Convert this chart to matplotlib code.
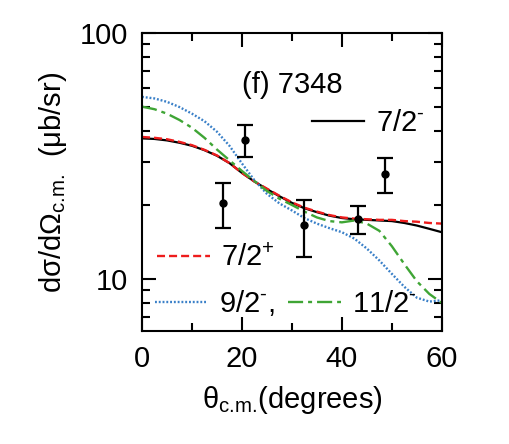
import numpy as np
import matplotlib.pyplot as plt
from matplotlib.ticker import LogLocator, NullFormatter, FixedLocator

plt.rcParams['font.family'] = ['Liberation Sans', 'DejaVu Sans']
plt.rcParams['mathtext.fontset'] = 'custom'
plt.rcParams['mathtext.rm'] = 'Liberation Sans'
plt.rcParams['mathtext.it'] = 'Liberation Sans:italic'

# data points
theta_exp = [16.3, 20.6, 32.4, 43.2, 48.6]
sig_exp = [20.3, 36.7, 16.6, 17.5, 26.7]
err_exp = [4.2, 5.4, 4.3, 2.3, 4.25]

# calculations
theta = [0, 2.5, 5, 7.5, 10, 12.5, 15, 17.5, 20, 22.5, 25, 27.5, 30, 32.5,
         35, 37.5, 40, 42.5, 45, 47.5, 50, 52.5, 55, 57.5, 60]
s72m = [37.3, 37.1, 36.6, 35.8, 34.8, 33.4, 31.7, 29.6, 27.0, 24.9, 23.2, 21.7, 20.4,
        19.4, 18.7, 18.1, 17.7, 17.5, 17.4, 17.3, 17.2, 16.9, 16.5, 16.0, 15.5]
s72p = [37.8, 37.5, 37.0, 36.1, 35.0, 33.5, 31.8, 29.6, 27.0, 24.9, 23.3, 21.8, 20.5,
        19.5, 18.8, 18.2, 17.8, 17.6, 17.5, 17.4, 17.4, 17.2, 17.1, 16.9, 16.8]
s92m = [55.0, 54.2, 52.5, 50.0, 47.0, 43.8, 39.7, 34.8, 29.5, 25.2, 22.2, 20.3, 19.0,
        17.7, 16.8, 16.1, 15.5, 14.6, 13.3, 11.9, 10.5, 9.3, 8.4, 8.1, 8.2]
s112m = [50.2, 49.0, 47.0, 44.3, 41.2, 37.5, 33.6, 30.4, 27.5, 25.0, 22.8, 21.2, 20.0,
         18.8, 17.8, 17.2, 17.0, 17.3, 16.8, 15.7, 13.6, 11.5, 9.8, 8.7, 8.0]

fs = 21
fig = plt.figure(figsize=(5.09, 4.44), dpi=100)
ax = fig.add_axes([0.279, 0.2545, 0.589, 0.6712])

l1, = ax.plot(theta, s72m, color='black', lw=1.6)
l2, = ax.plot(theta, s72p, color='#ee1c1c', lw=1.7, ls=(0, (3.4, 1.7)))
l3, = ax.plot(theta, s92m, color='#3a80c8', lw=1.7, ls=(0, (0.8, 0.8)))
l4, = ax.plot(theta, s112m, color='#3fa535', lw=1.7, ls=(0, (6.4, 2.1, 1.7, 2.1)))
ax.errorbar(theta_exp, sig_exp, yerr=err_exp, fmt='o', color='black', ms=5,
            elinewidth=1.6, capsize=5.5, capthick=1.6)

ax.set_yscale('log')
ax.set_xlim(0, 60)
ax.set_ylim(6.15, 100)
ax.xaxis.set_major_locator(FixedLocator([0, 20, 40, 60]))
ax.xaxis.set_minor_locator(FixedLocator([10, 30, 50]))
ax.yaxis.set_major_locator(FixedLocator([10, 100]))
ax.yaxis.set_minor_locator(LogLocator(base=10, subs=np.arange(2, 10)))
ax.yaxis.set_minor_formatter(NullFormatter())
ax.set_yticklabels(['10', '100'])
ax.tick_params(which='both', direction='in', top=True, right=True, width=1.5,
               labelsize=fs, pad=10)
ax.tick_params(which='major', length=10)
ax.tick_params(which='minor', length=6)
for s in ax.spines.values():
    s.set_linewidth(1.5)

ax.set_xlabel(r'θ$_{\text{c.m.}}$(degrees)', fontsize=fs, labelpad=8)
ax.set_ylabel(r'dσ/dΩ$_{\text{c.m.}}$  (μb/sr)', fontsize=fs, labelpad=8)

ax.text(0.503, 0.826, '(f) 7348', transform=ax.transAxes, fontsize=fs,
        ha='center', va='center')

kw = dict(frameon=False, fontsize=fs, borderpad=0, borderaxespad=0,
          handlelength=1.8, handletextpad=0.4)
leg1 = ax.legend([l1], [r'7/2$^{\text{-}}$'], loc='center left',
                 bbox_to_anchor=(0.567, 0.698), **kw)
ax.add_artist(leg1)
leg2 = ax.legend([l2], [r'7/2$^{+}$'], loc='center left',
                 bbox_to_anchor=(0.05, 0.245), **kw)
ax.add_artist(leg2)
ax.legend([l3, l4], [r'9/2$^{\text{-}}$,', r'11/2$^{\text{-}}$'], loc='center left',
          ncol=2, columnspacing=0.45, bbox_to_anchor=(0.043, 0.094), **kw)

fig.savefig('out.png', dpi=100)
